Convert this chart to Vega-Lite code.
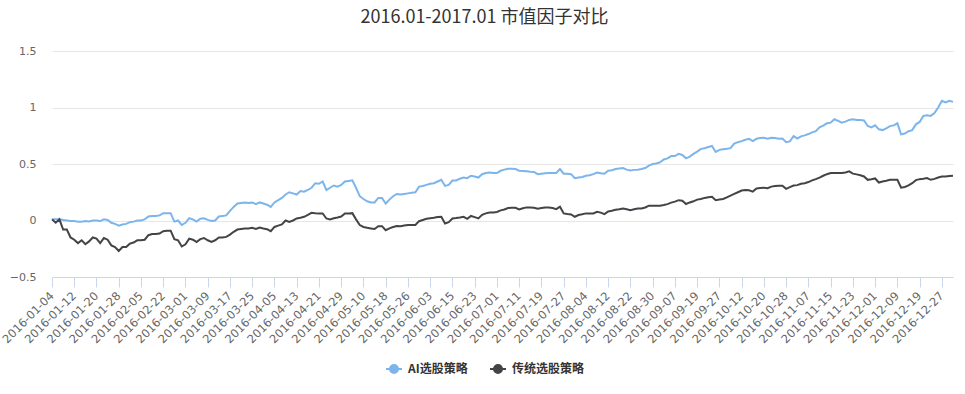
{
  "$schema": "https://vega.github.io/schema/vega-lite/v6.json",
  "autosize": {"type": "none"},
  "width": 901,
  "height": 226,
  "padding": {"left": 52, "top": 51, "right": 12, "bottom": 117},
  "background": "#ffffff",
  "title": {
    "text": "2016.01-2017.01 市值因子对比",
    "font": "Noto Sans CJK SC",
    "fontSize": 18,
    "fontWeight": "normal",
    "color": "#333333",
    "anchor": "middle",
    "dx": -18,
    "offset": 18
  },
  "data": {
    "values": [
      {"d":"2016-01-04","AI选股策略":0.01,"传统选股策略":0.01},
      {"d":"2016-01-05","AI选股策略":0.01,"传统选股策略":-0.02},
      {"d":"2016-01-06","AI选股策略":0.01,"传统选股策略":0.01},
      {"d":"2016-01-07","AI选股策略":0.005,"传统选股策略":-0.08},
      {"d":"2016-01-08","AI选股策略":0.0,"传统选股策略":-0.08},
      {"d":"2016-01-11","AI选股策略":-0.005,"传统选股策略":-0.15},
      {"d":"2016-01-12","AI选股策略":-0.005,"传统选股策略":-0.17},
      {"d":"2016-01-13","AI选股策略":-0.01,"传统选股策略":-0.2},
      {"d":"2016-01-14","AI选股策略":-0.01,"传统选股策略":-0.175},
      {"d":"2016-01-15","AI选股策略":-0.005,"传统选股策略":-0.21},
      {"d":"2016-01-18","AI选股策略":-0.008,"传统选股策略":-0.185},
      {"d":"2016-01-19","AI选股策略":0.0,"传统选股策略":-0.15},
      {"d":"2016-01-20","AI选股策略":0.0,"传统选股策略":-0.16},
      {"d":"2016-01-21","AI选股策略":-0.005,"传统选股策略":-0.2},
      {"d":"2016-01-22","AI选股策略":0.01,"传统选股策略":-0.155},
      {"d":"2016-01-25","AI选股策略":0.005,"传统选股策略":-0.17},
      {"d":"2016-01-26","AI选股策略":-0.02,"传统选股策略":-0.22},
      {"d":"2016-01-27","AI选股策略":-0.03,"传统选股策略":-0.235},
      {"d":"2016-01-28","AI选股策略":-0.045,"传统选股策略":-0.27},
      {"d":"2016-01-29","AI选股策略":-0.035,"传统选股策略":-0.235},
      {"d":"2016-02-01","AI选股策略":-0.03,"传统选股策略":-0.235},
      {"d":"2016-02-02","AI选股策略":-0.015,"传统选股策略":-0.205},
      {"d":"2016-02-03","AI选股策略":-0.01,"传统选股策略":-0.195},
      {"d":"2016-02-04","AI选股策略":0.0,"传统选股策略":-0.175},
      {"d":"2016-02-05","AI选股策略":0.0,"传统选股策略":-0.175},
      {"d":"2016-02-15","AI选股策略":0.01,"传统选股策略":-0.17},
      {"d":"2016-02-16","AI选股策略":0.035,"传统选股策略":-0.13},
      {"d":"2016-02-17","AI选股策略":0.04,"传统选股策略":-0.12},
      {"d":"2016-02-18","AI选股策略":0.04,"传统选股策略":-0.12},
      {"d":"2016-02-19","AI选股策略":0.045,"传统选股策略":-0.115},
      {"d":"2016-02-22","AI选股策略":0.065,"传统选股策略":-0.095},
      {"d":"2016-02-23","AI选股策略":0.065,"传统选股策略":-0.09},
      {"d":"2016-02-24","AI选股策略":0.065,"传统选股策略":-0.09},
      {"d":"2016-02-25","AI选股策略":-0.01,"传统选股策略":-0.165},
      {"d":"2016-02-26","AI选股策略":0.0,"传统选股策略":-0.175},
      {"d":"2016-02-29","AI选股策略":-0.04,"传统选股策略":-0.23},
      {"d":"2016-03-01","AI选股策略":-0.02,"传统选股策略":-0.21},
      {"d":"2016-03-02","AI选股策略":0.02,"传统选股策略":-0.16},
      {"d":"2016-03-03","AI选股策略":0.01,"传统选股策略":-0.17},
      {"d":"2016-03-04","AI选股策略":-0.01,"传统选股策略":-0.19},
      {"d":"2016-03-07","AI选股策略":0.015,"传统选股策略":-0.165},
      {"d":"2016-03-08","AI选股策略":0.02,"传统选股策略":-0.155},
      {"d":"2016-03-09","AI选股策略":0.005,"传统选股策略":-0.175},
      {"d":"2016-03-10","AI选股策略":-0.005,"传统选股策略":-0.19},
      {"d":"2016-03-11","AI选股策略":0.0,"传统选股策略":-0.175},
      {"d":"2016-03-14","AI选股策略":0.035,"传统选股策略":-0.15},
      {"d":"2016-03-15","AI选股策略":0.04,"传统选股策略":-0.15},
      {"d":"2016-03-16","AI选股策略":0.045,"传统选股策略":-0.145},
      {"d":"2016-03-17","AI选股策略":0.085,"传统选股策略":-0.125},
      {"d":"2016-03-18","AI选股策略":0.12,"传统选股策略":-0.1},
      {"d":"2016-03-21","AI选股策略":0.15,"传统选股策略":-0.08},
      {"d":"2016-03-22","AI选股策略":0.155,"传统选股策略":-0.075},
      {"d":"2016-03-23","AI选股策略":0.16,"传统选股策略":-0.07},
      {"d":"2016-03-24","AI选股策略":0.155,"传统选股策略":-0.07},
      {"d":"2016-03-25","AI选股策略":0.16,"传统选股策略":-0.065},
      {"d":"2016-03-28","AI选股策略":0.145,"传统选股策略":-0.075},
      {"d":"2016-03-29","AI选股策略":0.16,"传统选股策略":-0.062},
      {"d":"2016-03-30","AI选股策略":0.15,"传统选股策略":-0.07},
      {"d":"2016-03-31","AI选股策略":0.14,"传统选股策略":-0.077},
      {"d":"2016-04-01","AI选股策略":0.12,"传统选股策略":-0.095},
      {"d":"2016-04-05","AI选股策略":0.16,"传统选股策略":-0.057},
      {"d":"2016-04-06","AI选股策略":0.18,"传统选股策略":-0.045},
      {"d":"2016-04-07","AI选股策略":0.2,"传统选股策略":-0.035},
      {"d":"2016-04-08","AI选股策略":0.23,"传统选股策略":0.0},
      {"d":"2016-04-11","AI选股策略":0.25,"传统选股策略":-0.012},
      {"d":"2016-04-12","AI选股策略":0.24,"传统选股策略":0.0},
      {"d":"2016-04-13","AI选股策略":0.23,"传统选股策略":0.018},
      {"d":"2016-04-14","AI选股策略":0.26,"传统选股策略":0.025},
      {"d":"2016-04-15","AI选股策略":0.255,"传统选股策略":0.033},
      {"d":"2016-04-18","AI选股策略":0.27,"传统选股策略":0.05},
      {"d":"2016-04-19","AI选股策略":0.29,"传统选股策略":0.068},
      {"d":"2016-04-20","AI选股策略":0.33,"传统选股策略":0.065},
      {"d":"2016-04-21","AI选股策略":0.325,"传统选股策略":0.063},
      {"d":"2016-04-22","AI选股策略":0.345,"传统选股策略":0.063},
      {"d":"2016-04-25","AI选股策略":0.27,"传统选股策略":0.018},
      {"d":"2016-04-26","AI选股策略":0.29,"传统选股策略":0.01},
      {"d":"2016-04-27","AI选股策略":0.31,"传统选股策略":0.02},
      {"d":"2016-04-28","AI选股策略":0.3,"传统选股策略":0.027},
      {"d":"2016-04-29","AI选股策略":0.315,"传统选股策略":0.035},
      {"d":"2016-05-03","AI选股策略":0.345,"传统选股策略":0.063},
      {"d":"2016-05-04","AI选股策略":0.35,"传统选股策略":0.063},
      {"d":"2016-05-05","AI选股策略":0.355,"传统选股策略":0.065},
      {"d":"2016-05-06","AI选股策略":0.29,"传统选股策略":0.01},
      {"d":"2016-05-09","AI选股策略":0.215,"传统选股策略":-0.04},
      {"d":"2016-05-10","AI选股策略":0.19,"传统选股策略":-0.057},
      {"d":"2016-05-11","AI选股策略":0.17,"传统选股策略":-0.065},
      {"d":"2016-05-12","AI选股策略":0.16,"传统选股策略":-0.07},
      {"d":"2016-05-13","AI选股策略":0.16,"传统选股策略":-0.075},
      {"d":"2016-05-16","AI选股策略":0.2,"传统选股策略":-0.05},
      {"d":"2016-05-17","AI选股策略":0.2,"传统选股策略":-0.05},
      {"d":"2016-05-18","AI选股策略":0.15,"传统选股策略":-0.086},
      {"d":"2016-05-19","AI选股策略":0.185,"传统选股策略":-0.07},
      {"d":"2016-05-20","AI选股策略":0.215,"传统选股策略":-0.058},
      {"d":"2016-05-23","AI选股策略":0.235,"传统选股策略":-0.048},
      {"d":"2016-05-24","AI选股策略":0.23,"传统选股策略":-0.05},
      {"d":"2016-05-25","AI选股策略":0.235,"传统选股策略":-0.045},
      {"d":"2016-05-26","AI选股策略":0.24,"传统选股策略":-0.04},
      {"d":"2016-05-27","AI选股策略":0.245,"传统选股策略":-0.04},
      {"d":"2016-05-30","AI选股策略":0.25,"传统选股策略":-0.04},
      {"d":"2016-05-31","AI选股策略":0.3,"传统选股策略":-0.006},
      {"d":"2016-06-01","AI选股策略":0.305,"传统选股策略":0.005},
      {"d":"2016-06-02","AI选股策略":0.315,"传统选股策略":0.015},
      {"d":"2016-06-03","AI选股策略":0.325,"传统选股策略":0.02},
      {"d":"2016-06-06","AI选股策略":0.33,"传统选股策略":0.024},
      {"d":"2016-06-07","AI选股策略":0.345,"传统选股策略":0.03},
      {"d":"2016-06-08","AI选股策略":0.36,"传统选股策略":0.033},
      {"d":"2016-06-13","AI选股策略":0.306,"传统选股策略":-0.027},
      {"d":"2016-06-14","AI选股策略":0.315,"传统选股策略":-0.015},
      {"d":"2016-06-15","AI选股策略":0.354,"传统选股策略":0.018},
      {"d":"2016-06-16","AI选股策略":0.355,"传统选股策略":0.022},
      {"d":"2016-06-17","AI选股策略":0.37,"传统选股策略":0.027},
      {"d":"2016-06-20","AI选股策略":0.38,"传统选股策略":0.033},
      {"d":"2016-06-21","AI选股策略":0.375,"传统选股策略":0.015},
      {"d":"2016-06-22","AI选股策略":0.396,"传统选股策略":0.04},
      {"d":"2016-06-23","AI选股策略":0.39,"传统选股策略":0.03},
      {"d":"2016-06-24","AI选股策略":0.38,"传统选股策略":0.018},
      {"d":"2016-06-27","AI选股策略":0.41,"传统选股策略":0.05},
      {"d":"2016-06-28","AI选股策略":0.42,"传统选股策略":0.063},
      {"d":"2016-06-29","AI选股策略":0.425,"传统选股策略":0.071},
      {"d":"2016-06-30","AI选股策略":0.42,"传统选股策略":0.071},
      {"d":"2016-07-01","AI选股策略":0.42,"传统选股策略":0.075},
      {"d":"2016-07-04","AI选股策略":0.44,"传统选股策略":0.09},
      {"d":"2016-07-05","AI选股策略":0.45,"传统选股策略":0.098},
      {"d":"2016-07-06","AI选股策略":0.458,"传统选股策略":0.11},
      {"d":"2016-07-07","AI选股策略":0.458,"传统选股策略":0.113},
      {"d":"2016-07-08","AI选股策略":0.455,"传统选股策略":0.113},
      {"d":"2016-07-11","AI选股策略":0.44,"传统选股策略":0.098},
      {"d":"2016-07-12","AI选股策略":0.438,"传统选股策略":0.108},
      {"d":"2016-07-13","AI选股策略":0.435,"传统选股策略":0.116},
      {"d":"2016-07-14","AI选股策略":0.432,"传统选股策略":0.116},
      {"d":"2016-07-15","AI选股策略":0.43,"传统选股策略":0.113},
      {"d":"2016-07-18","AI选股策略":0.41,"传统选股策略":0.104},
      {"d":"2016-07-19","AI选股策略":0.414,"传统选股策略":0.11},
      {"d":"2016-07-20","AI选股策略":0.418,"传统选股策略":0.116},
      {"d":"2016-07-21","AI选股策略":0.42,"传统选股策略":0.116},
      {"d":"2016-07-22","AI选股策略":0.42,"传统选股策略":0.11},
      {"d":"2016-07-25","AI选股策略":0.42,"传统选股策略":0.1},
      {"d":"2016-07-26","AI选股策略":0.455,"传统选股策略":0.122},
      {"d":"2016-07-27","AI选股策略":0.414,"传统选股策略":0.063},
      {"d":"2016-07-28","AI选股策略":0.414,"传统选股策略":0.058},
      {"d":"2016-07-29","AI选股策略":0.41,"传统选股策略":0.054},
      {"d":"2016-08-01","AI选股策略":0.375,"传统选股策略":0.033},
      {"d":"2016-08-02","AI选股策略":0.38,"传统选股策略":0.048},
      {"d":"2016-08-03","AI选股策略":0.385,"传统选股策略":0.055},
      {"d":"2016-08-04","AI选股策略":0.396,"传统选股策略":0.063},
      {"d":"2016-08-05","AI选股策略":0.4,"传统选股策略":0.063},
      {"d":"2016-08-08","AI选股策略":0.41,"传统选股策略":0.063},
      {"d":"2016-08-09","AI选股策略":0.425,"传统选股策略":0.077},
      {"d":"2016-08-10","AI选股策略":0.418,"传统选股策略":0.07},
      {"d":"2016-08-11","AI选股策略":0.414,"传统选股策略":0.057},
      {"d":"2016-08-12","AI选股策略":0.44,"传统选股策略":0.08},
      {"d":"2016-08-15","AI选股策略":0.445,"传统选股策略":0.086},
      {"d":"2016-08-16","AI选股策略":0.455,"传统选股策略":0.095},
      {"d":"2016-08-17","AI选股策略":0.46,"传统选股策略":0.1},
      {"d":"2016-08-18","AI选股策略":0.464,"传统选股策略":0.107},
      {"d":"2016-08-19","AI选股策略":0.45,"传统选股策略":0.1},
      {"d":"2016-08-22","AI选股策略":0.443,"传统选股策略":0.092},
      {"d":"2016-08-23","AI选股策略":0.448,"传统选股策略":0.1},
      {"d":"2016-08-24","AI选股策略":0.45,"传统选股策略":0.107},
      {"d":"2016-08-25","AI选股策略":0.455,"传统选股策略":0.107},
      {"d":"2016-08-26","AI选股策略":0.464,"传统选股策略":0.115},
      {"d":"2016-08-29","AI选股策略":0.485,"传统选股策略":0.131},
      {"d":"2016-08-30","AI选股策略":0.5,"传统选股策略":0.131},
      {"d":"2016-08-31","AI选股策略":0.505,"传统选股策略":0.131},
      {"d":"2016-09-01","AI选股策略":0.515,"传统选股策略":0.131},
      {"d":"2016-09-02","AI选股策略":0.54,"传统选股策略":0.137},
      {"d":"2016-09-05","AI选股策略":0.55,"传统选股策略":0.145},
      {"d":"2016-09-06","AI选股策略":0.57,"传统选股策略":0.158},
      {"d":"2016-09-07","AI选股策略":0.57,"传统选股策略":0.167},
      {"d":"2016-09-08","AI选股策略":0.59,"传统选股策略":0.18},
      {"d":"2016-09-09","AI选股策略":0.58,"传统选股策略":0.175},
      {"d":"2016-09-12","AI选股策略":0.55,"传统选股策略":0.146},
      {"d":"2016-09-13","AI选股策略":0.565,"传统选股策略":0.16},
      {"d":"2016-09-14","AI选股策略":0.59,"传统选股策略":0.17},
      {"d":"2016-09-19","AI选股策略":0.61,"传统选股策略":0.185},
      {"d":"2016-09-20","AI选股策略":0.634,"传统选股策略":0.19},
      {"d":"2016-09-21","AI选股策略":0.64,"传统选股策略":0.2},
      {"d":"2016-09-22","AI选股策略":0.65,"传统选股策略":0.205},
      {"d":"2016-09-23","AI选股策略":0.66,"传统选股策略":0.21},
      {"d":"2016-09-26","AI选股策略":0.607,"传统选股策略":0.18},
      {"d":"2016-09-27","AI选股策略":0.625,"传统选股策略":0.185},
      {"d":"2016-09-28","AI选股策略":0.63,"传统选股策略":0.19},
      {"d":"2016-09-29","AI选股策略":0.634,"传统选股策略":0.205},
      {"d":"2016-09-30","AI选股策略":0.64,"传统选股策略":0.22},
      {"d":"2016-10-10","AI选股策略":0.68,"传统选股策略":0.235},
      {"d":"2016-10-11","AI选股策略":0.693,"传统选股策略":0.25},
      {"d":"2016-10-12","AI选股策略":0.702,"传统选股策略":0.265},
      {"d":"2016-10-13","AI选股策略":0.715,"传统选股策略":0.27},
      {"d":"2016-10-14","AI选股策略":0.723,"传统选股策略":0.268},
      {"d":"2016-10-17","AI选股策略":0.702,"传统选股策略":0.256},
      {"d":"2016-10-18","AI选股策略":0.723,"传统选股策略":0.283},
      {"d":"2016-10-19","AI选股策略":0.73,"传统选股策略":0.288},
      {"d":"2016-10-20","AI选股策略":0.732,"传统选股策略":0.29},
      {"d":"2016-10-21","AI选股策略":0.723,"传统选股策略":0.286},
      {"d":"2016-10-24","AI选股策略":0.732,"传统选股策略":0.3},
      {"d":"2016-10-25","AI选股策略":0.73,"传统选股策略":0.305},
      {"d":"2016-10-26","AI选股策略":0.723,"传统选股策略":0.307},
      {"d":"2016-10-27","AI选股策略":0.726,"传统选股策略":0.307},
      {"d":"2016-10-28","AI选股策略":0.693,"传统选股策略":0.28},
      {"d":"2016-10-31","AI选股策略":0.7,"传统选股策略":0.295},
      {"d":"2016-11-01","AI选股策略":0.747,"传统选股策略":0.31},
      {"d":"2016-11-02","AI选股策略":0.726,"传统选股策略":0.313},
      {"d":"2016-11-03","AI选股策略":0.745,"传统选股策略":0.325},
      {"d":"2016-11-04","AI选股策略":0.753,"传统选股策略":0.33},
      {"d":"2016-11-07","AI选股策略":0.765,"传统选股策略":0.34},
      {"d":"2016-11-08","AI选股策略":0.78,"传统选股策略":0.355},
      {"d":"2016-11-09","AI选股策略":0.79,"传统选股策略":0.366},
      {"d":"2016-11-10","AI选股策略":0.825,"传统选股策略":0.38},
      {"d":"2016-11-11","AI选股策略":0.84,"传统选股策略":0.396},
      {"d":"2016-11-14","AI选股策略":0.86,"传统选股策略":0.41},
      {"d":"2016-11-15","AI选股策略":0.866,"传统选股策略":0.42},
      {"d":"2016-11-16","AI选股策略":0.896,"传统选股策略":0.42},
      {"d":"2016-11-17","AI选股策略":0.882,"传统选股策略":0.42},
      {"d":"2016-11-18","AI选股策略":0.866,"传统选股策略":0.42},
      {"d":"2016-11-21","AI选股策略":0.875,"传统选股策略":0.425},
      {"d":"2016-11-22","AI选股策略":0.89,"传统选股策略":0.435},
      {"d":"2016-11-23","AI选股策略":0.896,"传统选股策略":0.415},
      {"d":"2016-11-24","AI选股策略":0.89,"传统选股策略":0.408},
      {"d":"2016-11-25","AI选股策略":0.89,"传统选股策略":0.4},
      {"d":"2016-11-28","AI选股策略":0.885,"传统选股策略":0.39},
      {"d":"2016-11-29","AI选股策略":0.836,"传统选股策略":0.36},
      {"d":"2016-11-30","AI选股策略":0.824,"传统选股策略":0.365},
      {"d":"2016-12-01","AI选股策略":0.842,"传统选股策略":0.372},
      {"d":"2016-12-02","AI选股策略":0.807,"传统选股策略":0.336},
      {"d":"2016-12-05","AI选股策略":0.8,"传统选股策略":0.345},
      {"d":"2016-12-06","AI选股策略":0.815,"传统选股策略":0.352},
      {"d":"2016-12-07","AI选股策略":0.835,"传统选股策略":0.36},
      {"d":"2016-12-08","AI选股策略":0.842,"传统选股策略":0.36},
      {"d":"2016-12-09","AI选股策略":0.86,"传统选股策略":0.36},
      {"d":"2016-12-12","AI选股策略":0.762,"传统选股策略":0.29},
      {"d":"2016-12-13","AI选股策略":0.77,"传统选股策略":0.297},
      {"d":"2016-12-14","AI选股策略":0.79,"传统选股策略":0.31},
      {"d":"2016-12-15","AI选股策略":0.8,"传统选股策略":0.33},
      {"d":"2016-12-16","AI选股策略":0.851,"传统选股策略":0.357},
      {"d":"2016-12-19","AI选股策略":0.872,"传统选股策略":0.366},
      {"d":"2016-12-20","AI选股策略":0.926,"传统选股策略":0.37},
      {"d":"2016-12-21","AI选股策略":0.932,"传统选股策略":0.375},
      {"d":"2016-12-22","AI选股策略":0.926,"传统选股策略":0.36},
      {"d":"2016-12-23","AI选股策略":0.95,"传统选股策略":0.368},
      {"d":"2016-12-26","AI选股策略":1.0,"传统选股策略":0.38},
      {"d":"2016-12-27","AI选股策略":1.06,"传统选股策略":0.39},
      {"d":"2016-12-28","AI选股策略":1.045,"传统选股策略":0.39},
      {"d":"2016-12-29","AI选股策略":1.06,"传统选股策略":0.393},
      {"d":"2016-12-30","AI选股策略":1.05,"传统选股策略":0.396}
    ]
  },
  "transform": [
    {"fold": ["AI选股策略", "传统选股策略"], "as": ["series", "value"]}
  ],
  "mark": {"type": "line", "strokeWidth": 2, "interpolate": "linear"},
  "encoding": {
    "x": {
      "field": "d",
      "type": "ordinal",
      "sort": null,
      "scale": {"type": "point", "padding": 0},
      "axis": {
        "title": null,
        "values": ["2016-01-04","2016-01-12","2016-01-20","2016-01-28","2016-02-05","2016-02-22","2016-03-01","2016-03-09","2016-03-17","2016-03-25","2016-04-05","2016-04-13","2016-04-21","2016-04-29","2016-05-10","2016-05-18","2016-05-26","2016-06-03","2016-06-15","2016-06-23","2016-07-01","2016-07-11","2016-07-19","2016-07-27","2016-08-04","2016-08-12","2016-08-22","2016-08-30","2016-09-07","2016-09-19","2016-09-27","2016-10-12","2016-10-20","2016-10-28","2016-11-07","2016-11-15","2016-11-23","2016-12-01","2016-12-09","2016-12-19","2016-12-27"],
        "labelAngle": -45,
        "labelAlign": "right",
        "labelBaseline": "middle",
        "labelPadding": 7,
        "labelOverlap": false,
        "labelBound": false,
        "labelFont": "DejaVu Sans",
        "labelFontSize": 11.5,
        "labelColor": "#666666",
        "domainColor": "#ccd6eb",
        "domainWidth": 1,
        "tickColor": "#ccd6eb",
        "tickSize": 10,
        "tickWidth": 1,
        "grid": false
      }
    },
    "y": {
      "field": "value",
      "type": "quantitative",
      "scale": {"domain": [-0.5, 1.5], "nice": false, "zero": false},
      "axis": {
        "title": null,
        "values": [-0.5, 0, 0.5, 1, 1.5],
        "format": ".1~f",
        "labelFont": "DejaVu Sans",
        "labelFontSize": 11,
        "labelColor": "#666666",
        "labelPadding": 16,
        "labelFlush": false,
        "domain": false,
        "ticks": false,
        "grid": true,
        "gridColor": "#e6e6e6",
        "gridWidth": 1
      }
    },
    "color": {
      "field": "series",
      "type": "nominal",
      "scale": {"domain": ["AI选股策略", "传统选股策略"], "range": ["#7cb5ec", "#434348"]},
      "legend": {
        "title": null,
        "orient": "none",
        "direction": "horizontal",
        "legendX": 333,
        "legendY": 309,
        "padding": 0,
        "symbolType": "M-1,0L1,0M-0.5,0A0.5,0.5,0,1,1,0.5,0A0.5,0.5,0,1,1,-0.5,0Z",
        "symbolSize": 256,
        "symbolStrokeWidth": 2,
        "labelFont": "Noto Sans CJK SC",
        "labelFontSize": 12,
        "labelFontWeight": "bold",
        "labelColor": "#333333",
        "labelOffset": 5,
        "columnPadding": 18,
        "encode": {
          "symbols": {"update": {"fill": {"scale": "color", "field": "value"}, "fillOpacity": {"value": 1}}}
        }
      }
    }
  },
  "config": {
    "view": {"stroke": null}
  }
}
